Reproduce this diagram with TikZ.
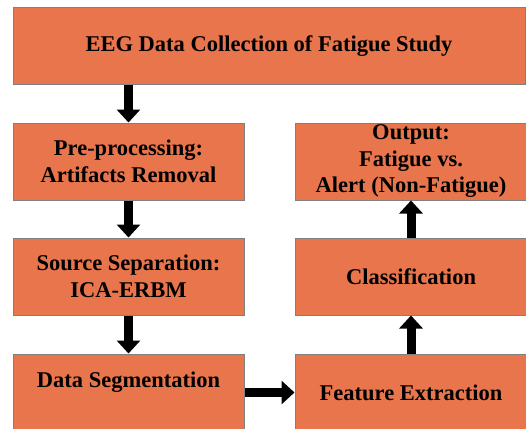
\documentclass[tikz,border=0pt]{standalone}
\usepackage{fontspec}
\setmainfont{Liberation Serif}
\usepackage{tikz}
\usetikzlibrary{positioning,arrows.meta}
\definecolor{boxfill}{RGB}{233,117,77}
\definecolor{boxline}{RGB}{128,128,128}
\tikzset{
  stage/.style={draw=boxline,fill=boxfill,line width=1pt,inner sep=0pt,align=center,
    minimum width=231pt,minimum height=77pt,
    font=\bfseries\fontsize{22.5}{26.5}\selectfont},
  flow/.style={line width=9pt,-{Triangle[width=23pt,length=13pt]}}
}
\begin{document}
\begin{tikzpicture}[x=1pt,y=-1pt]
      \useasboundingbox (0,0) rectangle (526,428);
      \clip (0,0) rectangle (526,428);
      \node[stage,minimum width=512pt,minimum height=76pt] (eeg) at (269,46) {EEG Data Collection of Fatigue Study};
      \node[stage] (pre) at (128.5,161.5) {Pre-processing:\\Artifacts Removal};
      \node[stage] (src) at (128.5,276.5) {Source Separation:\\ICA-ERBM};
      \node[stage] (seg) at (128.5,392.5) {Data Segmentation\\~};
      \node[stage,minimum width=232pt] (feat) at (411,392.5) {Feature Extraction};
      \node[stage,minimum width=232pt] (cls) at (411,276.5) {Classification};
      \node[stage,minimum width=232pt] (out) at (411,161.5) {Output:\\Fatigue vs.\\Alert (Non-Fatigue)};
      \draw[flow] (eeg.south -| pre.north) -- (pre.north);
      \draw[flow] (pre) -- (src);
      \draw[flow] (src) -- (seg);
      \draw[flow] (seg) -- (feat);
      \draw[flow] (feat) -- (cls);
      \draw[flow] (cls) -- (out);
    \end{tikzpicture}
\end{document}
